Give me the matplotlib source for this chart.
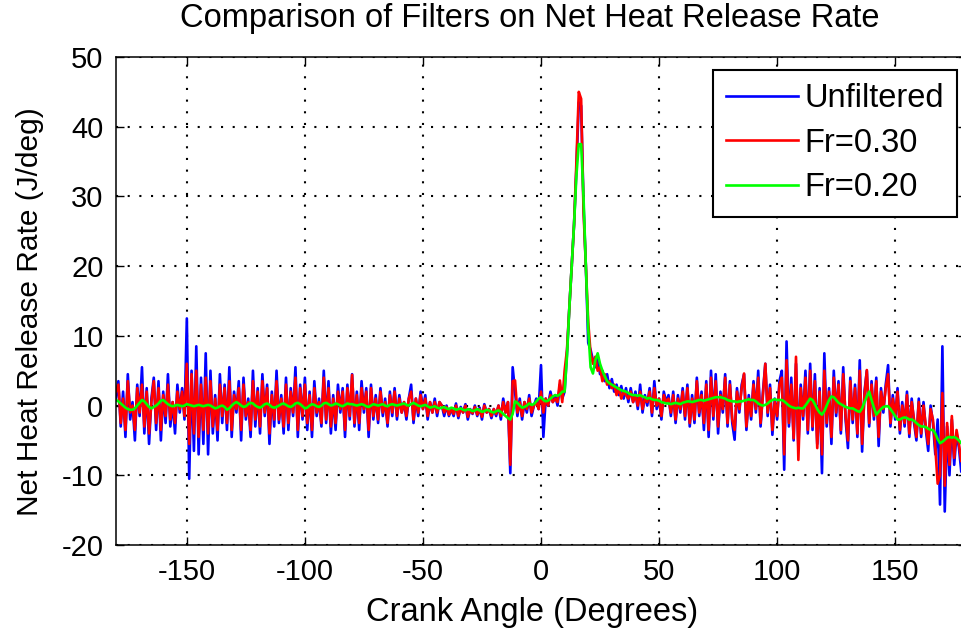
import numpy as np
import matplotlib
matplotlib.use("Agg")
import matplotlib.pyplot as plt

# Comparison of filters on net heat release rate (1 deg steps)

unfiltered = (
    [1.0, 3.5, -3.0, 2.0, -4.5, 4.5, -2.0, 0.5, -5.0, 3.0, -1.5, 5.5, -4.0, 2.5, -5.5, 1.0, 4.0, -3.5, 3.5, -5.0]
    + [2.0, -2.5, 4.5, -3.0, 0.5, -4.0, 3.0, -1.0, 2.5, -2.0, 12.5, -10.5, 5.0, -6.5, 8.5, -7.0, 4.0, -5.5, 7.5, -7.0]
    + [5.0, -4.0, 1.5, -5.0, 4.5, -2.5, 3.0, -3.5, 5.5, -4.5, 2.0, -1.0, 3.5, -5.0, 4.0, -2.0, 1.0, -4.5, 5.0, -3.0]
    + [2.5, -4.0, 4.5, -1.5, 3.0, -5.5, 2.0, -3.0, 5.0, -2.5, 1.5, -4.0, 4.0, -3.5, 2.5, -1.5, 5.5, -4.5, 3.0, -2.0]
    + [4.0, -3.5, 2.0, -4.5, 3.5, -1.5, 1.0, -3.0, 5.0, -2.5, 3.5, -4.0, 1.5, -3.5, 3.0, -1.0, 2.5, -4.5, 3.0, -2.0]
    + [4.5, -3.0, 2.0, -3.5, 3.5, -1.0, 2.5, -4.5, 3.0, -2.0, 1.5, -2.5, 2.5, -1.5, 1.0, -3.0, 2.0, -1.5, 2.5, -2.0]
    + [1.5, -1.0, 0.5, -2.0, 1.0, 3.0, -2.5, 1.0, -1.5, 2.0, -0.5, 1.5, -2.0, 0.5, -1.0, 1.0, -1.5, 0.5, 0.0, -1.5]
    + [0.0, -1.5, -0.5, -1.5, 0.3, -1.8, -0.2, -1.0, 0.2, -2.0, -0.5, -1.2, 0.0, -1.5, -0.3, -2.0, 0.2, -1.0, -0.5, -1.8]
    + [-0.5, -1.5, 0.0, -2.0, 1.0, -1.0, 0.5, -9.7, 5.5, 2.0, -1.5, 1.0, -2.0, 0.5, -1.0, 1.5, -1.5, 0.0, 1.0, -0.5]
    + [5.8, -4.5, 1.0, 0.0, 2.0, 0.5, 1.5, 0.0, 3.0, 1.0, 2.0, 7.5, 14.0, 20.0, 26.0, 34.0, 43.5, 43.0, 29.0, 20.0]
    + [9.0, 8.0, 6.5, 5.5, 7.0, 4.5, 5.0, 3.5, 4.5, 2.5, 3.8, 2.0, 3.0, 1.5, 2.8, 1.0, 2.5, 0.5, 2.5, 0.5]
    + [2.0, -0.5, 3.0, -1.0, 1.5, 0.0, 2.5, -1.5, 3.5, -0.5, 1.0, -2.0, 2.0, 0.5, 1.5, -1.5, 2.0, -2.5, 1.5, -1.0]
    + [2.5, -2.0, 3.0, -3.0, 1.5, -2.5, 4.0, -1.5, 2.0, -3.5, 3.5, -4.5, 5.0, -2.0, 4.5, -4.0, 2.0, -1.0, 4.5, -3.0]
    + [3.5, -2.5, -4.9, 2.5, -1.0, 3.0, 4.5, -3.5, 1.5, -2.0, 3.5, -1.0, 5.0, -3.0, 2.0, 6.0, -1.5, 3.0, -4.2, 1.0]
    + [-2.0, 3.5, 5.0, -9.2, 9.2, -3.0, 4.0, -5.0, 6.0, -6.0, 3.0, -2.0, 5.0, -4.0, 6.0, -3.5, 4.5, -5.5, 2.5, -9.7]
    + [7.5, -3.0, 2.5, -5.5, 5.0, -1.5, 3.5, -4.0, 5.5, -2.0, -6.1, 4.0, -2.5, 3.0, -4.5, 6.5, -6.6, 2.0, 5.0, -3.0]
    + [3.5, -2.0, 4.0, -5.8, 2.5, -1.0, 3.0, 5.8, -3.0, 1.5, -2.0, 2.5, -4.0, 0.5, -3.0, 2.0, -4.5, 1.0, -2.5, -5.0]
    + [1.0, -4.5, 0.5, -3.5, -6.5, 0.0, -2.5, -7.0, -2.0, -14.2, 8.5, -15.2, -3.0, -10.0, -2.0, -8.5, -4.0, -6.0, -9.5, -3.5, -5.0]
)

fr030 = (
    [2.0, 3.0, -2.5, 1.0, -3.5, 3.5, -1.0, 0.0, -3.5, 2.5, -1.0, 3.0, -3.0, 2.0, -4.0, 0.5, 3.5, -2.5, 2.5, -3.5]
    + [1.5, -1.5, 3.0, -2.0, 0.5, -2.5, 2.0, -0.5, 2.0, -1.5, 6.0, -5.5, 4.5, -4.0, 5.0, -4.5, 3.0, -3.5, 4.0, -4.0]
    + [3.5, -3.0, 1.0, -3.5, 3.0, -1.5, 2.5, -2.5, 3.5, -3.5, 1.5, -0.5, 2.5, -3.5, 3.0, -1.5, 0.5, -3.5, 3.5, -2.0]
    + [2.0, -3.0, 3.5, -1.0, 2.5, -4.0, 1.5, -2.0, 3.5, -2.0, 1.0, -3.0, 3.0, -2.5, 2.0, -1.0, 4.0, -3.5, 2.5, -1.5]
    + [3.0, -2.5, 1.5, -3.5, 2.5, -1.0, 0.5, -2.5, 4.0, -2.0, 2.5, -3.0, 1.0, -2.5, 2.0, -0.5, 2.0, -3.5, 2.5, -1.5]
    + [4.4, -2.5, 1.5, -2.5, 2.5, -0.5, 2.0, -3.5, 2.5, -1.5, 1.0, -2.0, 2.0, -1.0, 0.5, -2.5, 1.5, -1.0, 2.0, -1.5]
    + [1.0, -1.0, 0.5, -1.5, 1.0, 2.0, -2.0, 1.0, -1.0, 1.5, -0.5, 1.0, -1.5, 0.5, -1.0, 0.5, -1.0, 0.5, 0.0, -1.0]
    + [-0.2, -1.3, -0.5, -1.2, 0.0, -1.5, -0.4, -1.0, 0.0, -1.6, -0.6, -1.1, -0.2, -1.3, -0.5, -1.6, 0.0, -1.0, -0.5, -1.5]
    + [-0.5, -1.2, 0.0, -1.5, 0.5, -1.0, 0.5, -8.5, 3.5, 3.6, -1.0, 0.5, -1.5, 0.5, -0.5, 1.0, -1.0, 0.0, 0.5, -0.5]
    + [2.0, -1.0, 1.0, 0.0, 1.5, 0.5, 1.0, 0.5, 3.6, 0.5, 5.0, 8.0, 14.0, 20.0, 26.0, 35.0, 45.0, 44.0, 28.0, 20.0]
    + [12.0, 7.5, 6.0, 7.0, 5.0, 5.5, 3.5, 4.5, 3.0, 3.5, 2.5, 3.0, 1.5, 2.5, 1.0, 2.0, 1.5, 1.0, 2.0, 0.5]
    + [1.5, 0.0, 2.0, -0.5, 1.0, 0.5, 2.0, -1.0, 2.5, 0.0, 1.0, -1.5, 1.5, 0.5, 1.0, -1.0, 1.5, -2.0, 1.0, -0.5]
    + [2.0, -1.5, 2.5, -2.5, 1.0, -2.0, 3.5, -1.0, 1.5, -2.5, 3.0, -3.5, 4.0, -1.5, 3.5, -3.0, 1.5, -0.5, 4.0, -2.5]
    + [3.0, -2.0, -3.5, 2.0, -0.5, 2.5, 4.6, -3.0, 1.0, -1.5, 3.0, -0.5, 4.0, -2.5, 1.5, 6.0, -1.0, 2.5, -3.5, 0.5]
    + [-1.5, 3.0, 4.0, -7.0, 6.5, -2.5, 3.0, -4.7, 7.0, -7.8, 2.5, -1.5, 4.0, -3.5, 5.0, -3.0, 3.5, -6.1, 2.0, -7.0]
    + [5.0, -2.5, 2.0, -4.5, 4.0, -1.0, 3.0, -3.5, 4.5, -1.5, -5.0, 3.5, -2.0, 2.5, -4.0, 5.0, -5.5, 1.5, 5.1, -2.5]
    + [3.0, -1.5, 3.5, -4.5, 2.0, -0.5, 2.5, 4.5, -2.5, 1.0, -1.5, 2.0, -3.5, 0.0, -2.5, 1.5, -4.0, 0.5, -2.0, -4.5]
    + [0.5, -4.0, 0.0, -3.0, -5.5, -0.5, -2.0, -6.0, -11.2, -10.0, 1.8, -11.5, -2.5, -8.5, -1.5, -7.5, -3.5, -5.5, -8.0, -3.0, -4.5]
)

fr020 = (
    [0.8, 0.6, 0.3, 0.0, -0.3, -0.5, -0.6, -0.6, -0.4, 0.0, 0.4, 0.8, 0.6, 0.2, -0.2, -0.4, -0.2, 0.0, 0.3, 0.7]
    + [0.8, 0.5, 0.2, 0.0, -0.1, 0.0, 0.1, 0.0, -0.1, 0.0, 0.2, 0.1, 0.0, -0.1, 0.0, 0.1, 0.0, -0.1, 0.0, 0.1]
    + [0.0, -0.2, -0.4, -0.3, -0.1, 0.0, -0.2, -0.6, -0.4, 0.0, 0.3, 0.5, 0.3, 0.0, -0.2, -0.1, 0.2, 0.4, 0.3, 0.0]
    + [-0.2, -0.3, -0.1, 0.2, 0.3, 0.1, -0.2, -0.3, -0.2, 0.0, 0.2, 0.3, 0.1, -0.1, -0.2, 0.0, 0.3, 0.4, 0.2, -0.1]
    + [-0.4, -0.3, 0.0, 0.2, 0.1, -0.1, -0.2, 0.0, 0.3, 0.4, 0.2, 0.0, 0.1, 0.3, 0.2, 0.0, -0.1, 0.1, 0.3, 0.2]
    + [0.2, 0.1, 0.0, 0.1, 0.2, 0.1, -0.1, -0.2, 0.0, 0.2, 0.1, 0.0, 0.1, 0.2, 0.0, -0.1, 0.1, 0.2, 0.1, 0.0]
    + [0.1, 0.2, 0.3, 0.1, 0.0, 0.2, 0.4, 0.2, 0.0, -0.1, 0.0, 0.1, -0.1, -0.3, -0.2, -0.1, -0.3, -0.4, -0.3, -0.2]
    + [-0.4, -0.5, -0.3, -0.4, -0.6, -0.5, -0.4, -0.6, -0.7, -0.5, -0.6, -0.8, -0.7, -0.5, -0.7, -0.9, -0.8, -0.6, -0.7, -0.9]
    + [-1.0, -0.8, -0.7, -0.9, -1.2, -1.5, -1.8, -2.0, -1.2, 0.6, 0.4, 0.0, -0.3, -0.2, 0.0, 0.3, 0.1, 0.2, 0.6, 1.0]
    + [1.2, 0.8, 0.6, 0.7, 1.0, 1.3, 1.5, 1.4, 1.6, 2.0, 2.0, 7.0, 14.0, 20.0, 26.0, 33.0, 37.5, 37.5, 30.0, 20.0]
    + [11.0, 5.5, 4.6, 6.5, 7.5, 6.0, 5.0, 4.2, 3.5, 3.2, 3.0, 2.8, 2.6, 2.4, 2.2, 2.1, 2.0, 1.8, 1.6, 1.5]
    + [1.5, 1.4, 1.5, 1.3, 1.2, 1.0, 1.1, 0.9, 0.8, 0.8, 0.7, 0.5, 0.4, 0.3, 0.3, 0.2, 0.3, 0.4, 0.3, 0.2]
    + [0.4, 0.5, 0.6, 0.6, 0.5, 0.6, 0.7, 0.8, 0.8, 0.7, 0.8, 0.9, 1.0, 1.1, 1.2, 1.2, 1.2, 1.1, 1.0, 0.8]
    + [0.7, 0.6, 0.6, 0.5, 0.6, 0.6, 0.7, 0.8, 0.9, 0.8, 0.8, 0.6, 0.3, 0.1, 0.0, 0.1, 0.3, 0.6, 0.8, 0.9]
    + [0.8, 0.8, 0.8, 0.6, 0.3, 0.0, -0.2, -0.3, -0.4, -0.3, -0.4, -0.4, 0.0, 0.5, 1.0, 0.8, 0.2, -0.5, -1.0, -1.3]
    + [-0.8, 0.0, 0.8, 1.3, 1.2, 0.8, 0.4, 0.2, 0.0, -0.2, -0.3, -0.4, -0.4, -0.6, -0.8, -0.9, -0.4, 0.5, 1.3, 2.0]
    + [0.8, -0.3, -1.3, -0.9, -0.5, -0.2, -0.1, -0.1, -0.5, -1.0, -1.5, -2.0, -2.0, -1.8, -1.7, -1.8, -2.0, -2.0, -2.2, -2.5]
    + [-2.8, -3.0, -3.0, -3.1, -3.3, -3.5, -3.5, -4.0, -4.8, -5.4, -5.2, -4.9, -4.6, -4.5, -4.6, -4.5, -4.7, -5.0, -5.4, -5.4, -5.3]
)

x_ticks = [-150, -100, -50, 0, 50, 100, 150]
y_ticks = [-20, -10, 0, 10, 20, 30, 40, 50]

font = ['Liberation Sans Narrow', 'Liberation Sans', 'DejaVu Sans']
plt.rcParams['font.family'] = font
plt.rcParams['font.size'] = 21
plt.rcParams['axes.unicode_minus'] = False

fig = plt.figure(figsize=(9.61, 6.34), dpi=100)
# axes run slightly past the right edge, like the cropped original
ax = fig.add_axes([116 / 961, 89 / 634, 850 / 961, 488 / 634])

angle_u = np.arange(-180, -180 + len(unfiltered))
angle_r = np.arange(-180, -180 + len(fr030))
angle_g = np.arange(-180, -180 + len(fr020))

ax.plot(angle_u, unfiltered, color=(0, 0, 1), lw=1.9, label='Unfiltered')
ax.plot(angle_r, fr030, color=(1, 0, 0), lw=1.9, label='Fr=0.30')
ax.plot(angle_g, fr020, color=(0, 1, 0), lw=1.9, label='Fr=0.20')

ax.set_xlim(-180, 180)
ax.set_ylim(-20, 50)
ax.set_xticks(x_ticks)
ax.set_yticks(y_ticks)
ax.tick_params(direction='in', length=6, width=1, top=True, right=True,
               labelsize=21, pad=9)
ax.grid(True, color='k', linestyle=(0, (1, 4.6)), lw=1.5)
for s in ax.spines.values():
    s.set_linewidth(1.1)

fig.text(530 / 961, 1 - 18 / 634, 'Comparison of Filters on Net Heat Release Rate',
         ha='center', va='center', fontsize=23.5)
fig.text(532 / 961, 1 - 612 / 634, 'Crank Angle (Degrees)',
         ha='center', va='center', fontsize=23.5)
fig.text(30 / 961, 1 - 312 / 634, 'Net Heat Release Rate (J/deg)',
         ha='center', va='center', rotation=90, fontsize=21.5)

leg = ax.legend(loc='upper right', bbox_to_anchor=((957 - 116) / 850, (545 - 70) / 488),
                borderaxespad=0, fancybox=False, framealpha=1, edgecolor='k',
                fontsize=23.5, handlelength=2.2, handletextpad=0.2, labelspacing=0.42,
                borderpad=0.4)
leg.get_frame().set_linewidth(1.5)

fig.savefig('out.png', dpi=100)
